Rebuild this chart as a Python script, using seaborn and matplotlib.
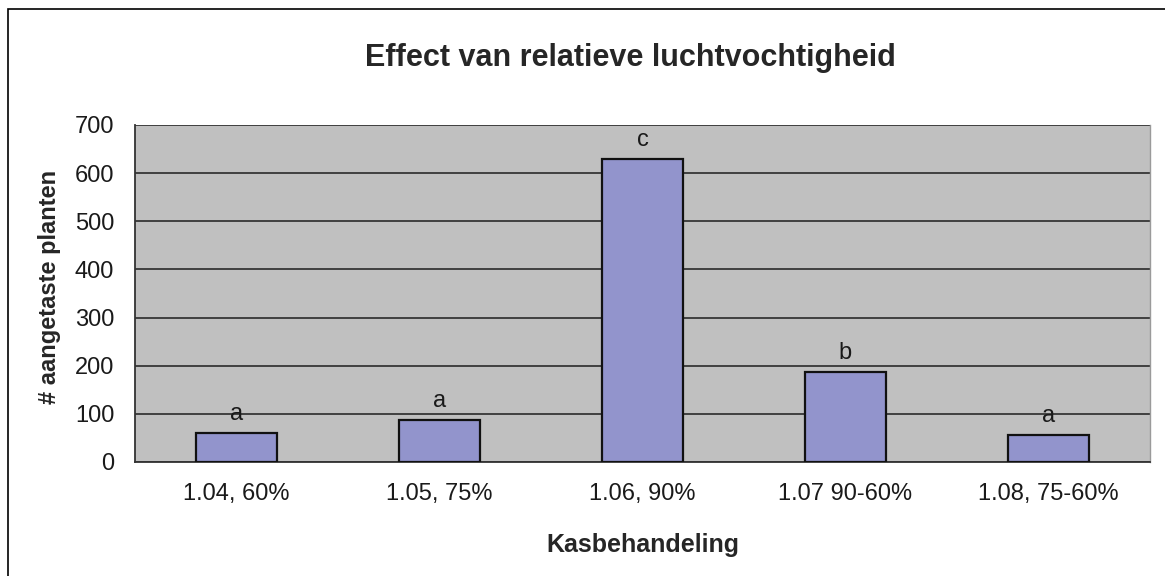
import matplotlib
matplotlib.use("Agg")
import matplotlib.pyplot as plt
import seaborn as sns
import pandas as pd
from matplotlib.patches import Rectangle

# Données
behandelingen = ["1.04, 60%", "1.05, 75%", "1.06, 90%", "1.07 90-60%", "1.08, 75-60%"]
aangetast = [60, 87, 630, 187, 56]
letters = ["a", "a", "c", "b", "a"]
y_ticks = [0, 100, 200, 300, 400, 500, 600, 700]

df = pd.DataFrame({"behandeling": behandelingen, "aantal": aangetast})

sns.set_style("white")
plt.rcParams["font.family"] = ["Liberation Sans", "DejaVu Sans"]

fig = plt.figure(figsize=(11.65, 5.76), dpi=100)
ax = fig.add_axes([0.116, 0.198, 0.871, 0.585])
ax.set_facecolor("#c0c0c0")

sns.barplot(data=df, x="behandeling", y="aantal", ax=ax, color="#9294cc",
            saturation=1, width=0.40, edgecolor="#111111", linewidth=1.6, zorder=3)

# Lettres de signification au-dessus des barres
for i, (v, l) in enumerate(zip(aangetast, letters)):
    ax.text(i, v + 17, l, ha="center", va="bottom", fontsize=17, color="#1a1a1a", zorder=4)

ax.set_ylim(0, 700)
ax.set_xlim(-0.5, len(behandelingen) - 0.5)
ax.set_yticks(y_ticks)
ax.yaxis.grid(True, color="#2a2a2a", linewidth=1.2, zorder=1)
ax.set_axisbelow(True)

# Petits traits entre les catégories sur l'axe x
ax.set_xticks(range(len(behandelingen)))
ax.set_xticklabels(behandelingen, fontsize=17, color="#1a1a1a")
ax.set_xticks([i + 0.5 for i in range(len(behandelingen))], minor=True)
ax.tick_params(axis="x", which="major", length=0, pad=15)
ax.tick_params(axis="x", which="minor", length=5, direction="out", color="#333333")
ax.tick_params(axis="y", length=6, direction="out", color="#333333", labelsize=17,
               labelcolor="#1a1a1a", pad=9)

ax.spines["top"].set_visible(False)
ax.spines["right"].set_color("#9a9a9a")
ax.spines["right"].set_linewidth(1.0)
for side in ["left", "bottom"]:
    ax.spines[side].set_color("#333333")
    ax.spines[side].set_linewidth(1.3)

ax.set_xlabel("Kasbehandeling", fontsize=18, fontweight="bold", labelpad=20)
ax.set_ylabel("# aangetaste planten", fontsize=17, fontweight="bold")
ax.yaxis.set_label_coords(-0.073, 0.519)
fig.text(0.541, 0.90, "Effect van relatieve luchtvochtigheid", ha="center", va="center",
         fontsize=22, fontweight="bold")

# Cadre autour du graphique
fig.patches.append(Rectangle((8 / 1165, -0.05), 1.1, 1.05 - 9 / 576,
                             transform=fig.transFigure, fill=False,
                             edgecolor="black", linewidth=1.2))

fig.savefig("out.png", dpi=100)
